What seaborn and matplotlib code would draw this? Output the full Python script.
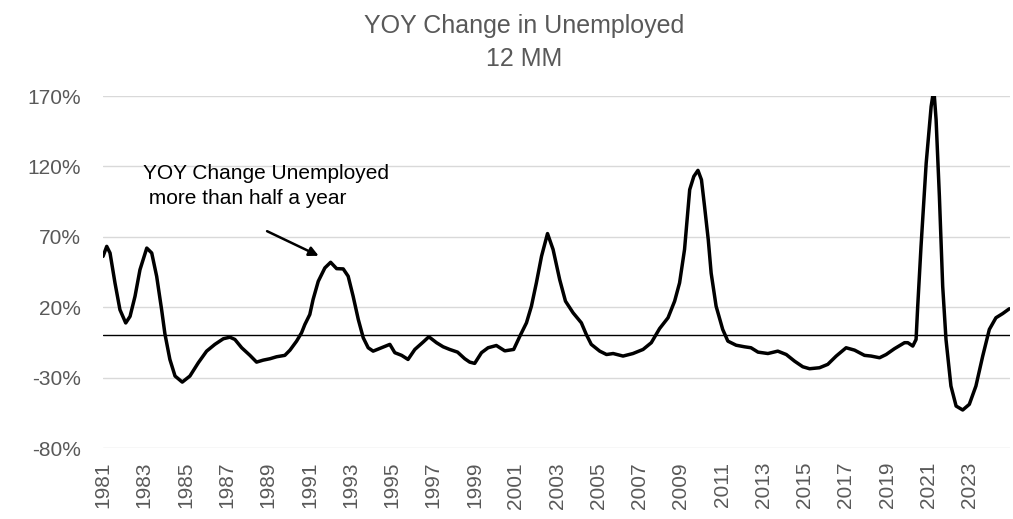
import pandas as pd
import numpy as np
import matplotlib
matplotlib.use("Agg")
import matplotlib.pyplot as plt
import seaborn as sns
from matplotlib.ticker import FuncFormatter

# values (decimal year, YOY % change)
years = [
    1981.00, 1981.18, 1981.34, 1981.58, 1981.82, 1982.10, 1982.31, 1982.55, 1982.79, 1983.12,
    1983.36, 1983.60, 1983.84, 1984.00, 1984.24, 1984.49, 1984.84, 1985.21, 1985.62, 1986.02,
    1986.42, 1986.83, 1987.15, 1987.39, 1987.72, 1988.12, 1988.44, 1988.76, 1989.09, 1989.41,
    1989.81, 1990.06, 1990.38, 1990.62, 1990.78, 1991.02, 1991.18, 1991.43, 1991.75, 1992.03,
    1992.32, 1992.64, 1992.88, 1993.12, 1993.37, 1993.61, 1993.85, 1994.09, 1994.50, 1994.90,
    1995.14, 1995.47, 1995.78, 1996.11, 1996.51, 1996.79, 1997.16, 1997.48, 1997.80, 1998.18,
    1998.53, 1998.77, 1999.01, 1999.34, 1999.66, 2000.06, 2000.47, 2000.90, 2001.20, 2001.52,
    2001.76, 2002.00, 2002.25, 2002.54, 2002.81, 2003.13, 2003.41, 2003.78, 2004.18, 2004.42,
    2004.66, 2005.07, 2005.40, 2005.72, 2006.20, 2006.68, 2007.17, 2007.57, 2007.97, 2008.38,
    2008.70, 2008.94, 2009.18, 2009.43, 2009.63, 2009.83, 2010.00, 2010.15, 2010.33, 2010.47,
    2010.71, 2011.03, 2011.28, 2011.68, 2012.08, 2012.40, 2012.74, 2013.22, 2013.70, 2014.11,
    2014.51, 2014.91, 2015.24, 2015.72, 2016.12, 2016.53, 2017.01, 2017.42, 2017.90, 2018.22,
    2018.63, 2018.95, 2019.35, 2019.84, 2020.00, 2020.24, 2020.40, 2020.48, 2020.64, 2020.89,
    2021.13, 2021.26, 2021.37, 2021.53, 2021.69, 2021.85, 2022.09, 2022.34, 2022.66, 2022.98,
    2023.30, 2023.63, 2023.95, 2024.27, 2024.60, 2024.92,
]
yoy_change = [
    56.1, 63.2, 58.5, 37.2, 18.2, 8.8, 13.5, 27.7, 46.6, 62.0,
    58.5, 41.9, 18.2, 1.0, -17.1, -28.9, -33.2, -28.9, -19.4, -11.2,
    -6.4, -2.4, -1.3, -2.9, -8.8, -14.2, -19.0, -17.6, -16.6, -15.2,
    -14.2, -10.5, -4.1, 1.8, 7.7, 14.8, 25.5, 38.4, 47.9, 51.9,
    47.4, 47.2, 42.0, 27.8, 11.3, -1.7, -8.8, -11.2, -8.8, -6.4,
    -12.3, -14.2, -17.1, -10.0, -4.8, -1.0, -5.2, -8.1, -10.0, -11.9,
    -16.6, -19.0, -19.9, -12.3, -8.8, -7.2, -11.0, -10.0, -0.6, 8.9,
    20.7, 37.3, 56.2, 72.3, 61.0, 39.6, 24.3, 16.0, 8.9, 0.6,
    -6.4, -11.2, -13.6, -12.9, -14.7, -12.9, -10.0, -5.2, 4.8, 12.5,
    24.3, 37.3, 61.0, 103.5, 112.9, 117.2, 110.5, 91.6, 67.9, 44.2,
    20.7, 4.2, -4.1, -7.0, -8.1, -8.8, -11.9, -12.9, -11.2, -13.6,
    -18.3, -22.3, -23.7, -23.0, -20.6, -14.7, -8.8, -10.5, -14.2, -14.7,
    -15.9, -13.6, -9.5, -5.2, -5.2, -7.6, -2.9, 20.7, 63.2, 122.3,
    162.5, 175.0, 153.3, 98.8, 34.9, -2.9, -36.0, -50.2, -53.0, -49.0,
    -36.0, -14.7, 4.2, 12.5, 15.5, 18.9,
]

y_ticks = [-80, -30, 20, 70, 120, 170]
x_ticks = list(range(1981, 2024, 2))

df = pd.DataFrame({"year": years, "yoy": yoy_change})

sns.set_style("white")
plt.rcParams["font.family"] = ["Liberation Sans", "DejaVu Sans"]

fig = plt.figure(figsize=(10.13, 5.19), dpi=100)
ax = fig.add_axes([0.1017, 0.1368, 0.8953, 0.6782])

grey_text = "#595959"

for yv in y_ticks:
    ax.axhline(yv, color="#d9d9d9", lw=1, zorder=0)
ax.axhline(0, color="black", lw=1, zorder=1)

sns.lineplot(data=df, x="year", y="yoy", color="black", lw=2.5, ax=ax, zorder=3)

ax.set_xlim(1981, 2024.95)
ax.set_ylim(-80, 170)
ax.set_yticks(y_ticks)
ax.yaxis.set_major_formatter(FuncFormatter(lambda v, p: f"{v:.0f}%"))
ax.set_xticks(x_ticks)
ax.set_xticklabels([str(y) for y in x_ticks], rotation=90)
ax.tick_params(axis="y", length=0, pad=16, labelsize=15, labelcolor=grey_text)
ax.tick_params(axis="x", length=0, pad=10, labelsize=15, labelcolor=grey_text)
ax.set_xlabel("")
ax.set_ylabel("")
sns.despine(ax=ax, left=True, bottom=True)

# annotation
ax.text(1982.94, 121.5, "YOY Change Unemployed\n more than half a year",
        ha="left", va="top", fontsize=15, color="black", linespacing=1.4)
ax.annotate("", xy=(1991.45, 56.5), xytext=(1988.95, 74),
            arrowprops=dict(arrowstyle="-|>", color="black", lw=1.8,
                            mutation_scale=14, shrinkA=0, shrinkB=0))

fig.text(0.517, 0.950, "YOY Change in Unemployed", ha="center", va="center",
         fontsize=18, color=grey_text)
fig.text(0.517, 0.886, "12 MM", ha="center", va="center",
         fontsize=18, color=grey_text)

fig.savefig("out.png", dpi=100)
